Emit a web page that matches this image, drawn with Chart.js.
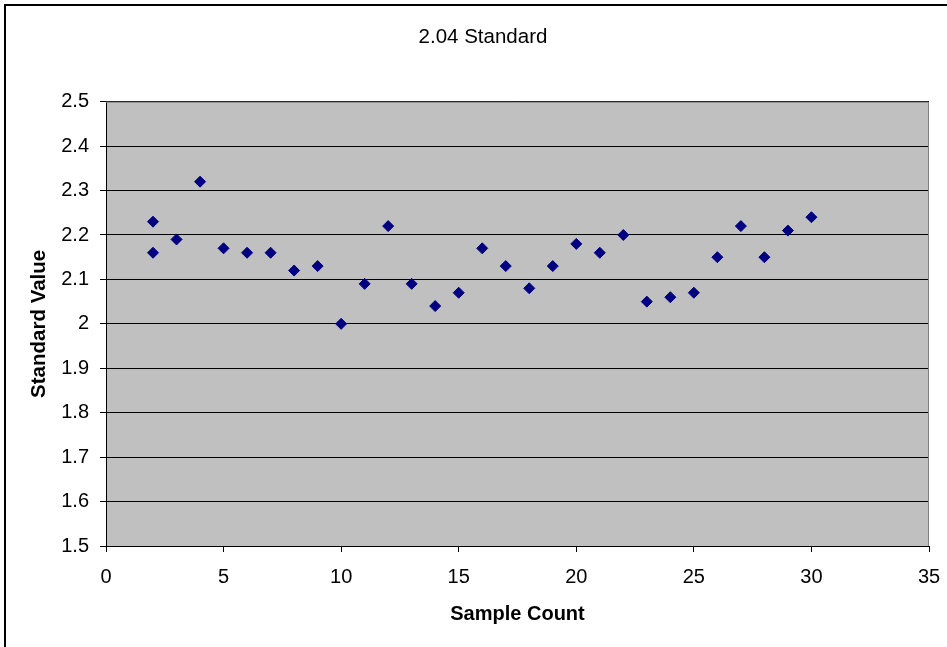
<!DOCTYPE html>
<html>
<head>
<meta charset="utf-8">
<script src="https://cdn.jsdelivr.net/npm/chart.js@4/dist/chart.umd.min.js"></script>
<style>
  html, body { margin: 0; padding: 0; background: #fff; }
  #wrap { width: 947px; height: 647px; position: relative; overflow: hidden; }
  canvas { display: block; }
</style>
</head>
<body>
<div id="wrap"><canvas id="c" width="947" height="647"></canvas></div>
<script>
// ---- data ----
const chartTitle = '2.04 Standard';
const xAxisTitle = 'Sample Count';
const yAxisTitle = 'Standard Value';
const sampleCount = [2, 2, 3, 4, 5, 6, 7, 8, 9, 10, 11, 12, 13, 14, 15, 16, 17, 18, 19, 20, 21, 22, 23, 24, 25, 26, 27, 28, 29, 30];
const standardValue = [2.23, 2.16, 2.19, 2.32, 2.17, 2.16, 2.16, 2.12, 2.13, 2.00, 2.09, 2.22, 2.09, 2.04, 2.07, 2.17, 2.13, 2.08, 2.13, 2.18, 2.16, 2.20, 2.05, 2.06, 2.07, 2.15, 2.22, 2.15, 2.21, 2.24];
const xTicks = [0, 5, 10, 15, 20, 25, 30, 35];
const yTicks = [1.5, 1.6, 1.7, 1.8, 1.9, 2.0, 2.1, 2.2, 2.3, 2.4, 2.5];

const points = sampleCount.map((x, i) => ({ x: x, y: standardValue[i] }));
const FONT = "'Liberation Sans', Arial, sans-serif";
const TITLE_CENTER_X = 483;

const framePlugin = {
  id: 'frame',
  afterLayout(chart) {
    const tb = chart.titleBlock;
    if (tb) {
      const c = (tb.left + tb.right) / 2;
      const d = TITLE_CENTER_X - c;
      tb.left += d;
      tb.right += d;
    }
  },
  beforeDraw(chart) {
    const { ctx, chartArea: a } = chart;
    ctx.save();
    ctx.fillStyle = '#fff';
    ctx.fillRect(0, 0, chart.width, chart.height);
    ctx.fillStyle = '#C0C0C0';
    ctx.fillRect(a.left, a.top, a.right - a.left, a.bottom - a.top);
    // outer chart border
    ctx.strokeStyle = '#000';
    ctx.lineWidth = 2;
    ctx.beginPath();
    ctx.moveTo(5, chart.height + 5);
    ctx.lineTo(5, 5);
    ctx.lineTo(chart.width + 5, 5);
    ctx.stroke();
    ctx.restore();
  },
  beforeDatasetsDraw(chart) {
    const { ctx, chartArea: a } = chart;
    ctx.save();
    ctx.strokeStyle = '#808080';
    ctx.lineWidth = 1;
    ctx.beginPath();
    ctx.moveTo(a.left, a.top + 0.5);
    ctx.lineTo(a.right - 0.5, a.top + 0.5);
    ctx.lineTo(a.right - 0.5, a.bottom);
    ctx.stroke();
    ctx.restore();
  }
};

new Chart(document.getElementById('c'), {
  type: 'scatter',
  data: {
    datasets: [{
      data: points,
      pointStyle: 'rectRot',
      pointRadius: 5.5,
      pointBorderWidth: 1,
      backgroundColor: '#000080',
      borderColor: '#000080',
      showLine: false
    }]
  },
  options: {
    responsive: false,
    animation: false,
    devicePixelRatio: 1,
    layout: { padding: { left: 0, right: 18, top: 0, bottom: 0 } },
    plugins: {
      legend: { display: false },
      tooltip: { enabled: false },
      title: {
        display: true,
        text: chartTitle,
        color: '#000',
        font: { family: FONT, size: 20.5, weight: 'normal', lineHeight: 1.2 },
        padding: { top: 25, bottom: 52.1 }
      }
    },
    scales: {
      x: {
        type: 'linear',
        min: xTicks[0],
        max: xTicks[xTicks.length - 1],
        afterBuildTicks(s) { s.ticks = xTicks.map(v => ({ value: v })); },
        afterFit(s) { s.height = 101; s.paddingLeft = 0; s.paddingRight = 0; },
        ticks: {
          color: '#000',
          padding: 13.5,
          font: { family: FONT, size: 20 },
          callback: v => String(v),
          maxRotation: 0,
          autoSkip: false
        },
        grid: { drawOnChartArea: false, drawTicks: true, tickLength: 6, color: '#000', lineWidth: 1 },
        border: { display: true, color: '#000', width: 1 },
        title: {
          display: true,
          text: xAxisTitle,
          color: '#000',
          font: { family: FONT, size: 20, weight: 'bold', lineHeight: 1.2 },
          padding: { top: 0, bottom: 21 }
        }
      },
      y: {
        type: 'linear',
        min: yTicks[0],
        max: yTicks[yTicks.length - 1],
        afterBuildTicks(s) { s.ticks = yTicks.map(v => ({ value: v })); },
        afterFit(s) { s.width = 106; s.paddingTop = 0; s.paddingBottom = 0; },
        ticks: {
          color: '#000',
          padding: 11,
          font: { family: FONT, size: 20 },
          callback: v => String(Number(v.toFixed(1))),
          autoSkip: false
        },
        grid: { drawOnChartArea: true, drawTicks: true, tickLength: 6, color: '#000', lineWidth: 1 },
        border: { display: true, color: '#000', width: 1 },
        title: {
          display: true,
          text: yAxisTitle,
          color: '#000',
          font: { family: FONT, size: 20.5, weight: 'bold', lineHeight: 1.2 },
          padding: { top: 27, bottom: 0 }
        }
      }
    }
  },
  plugins: [framePlugin]
});
</script>
</body>
</html>
